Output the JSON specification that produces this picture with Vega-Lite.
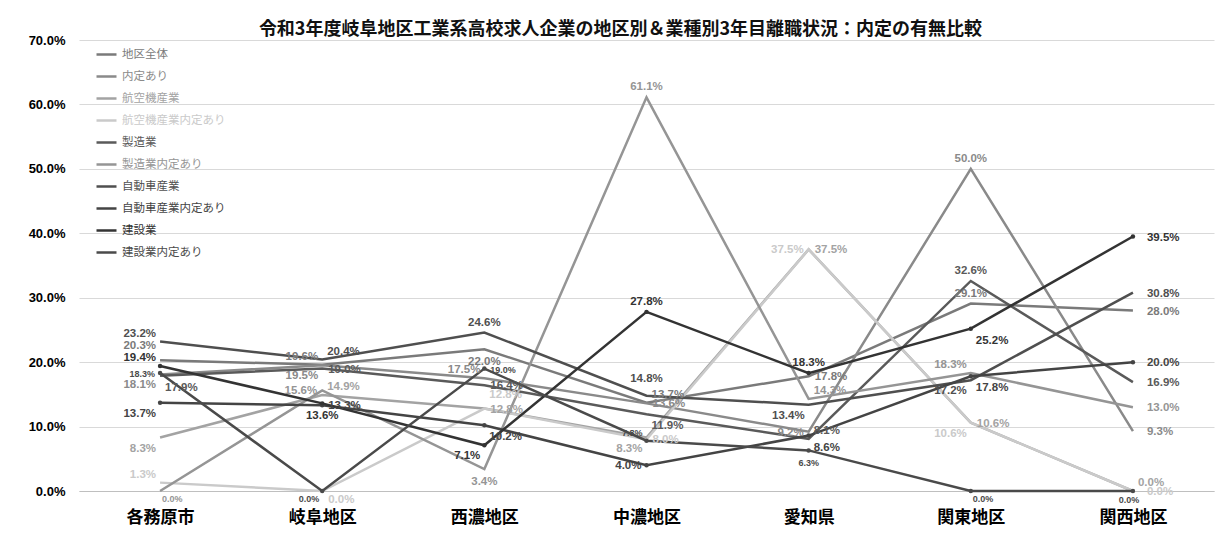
{
  "$schema": "https://vega.github.io/schema/vega-lite/v6.json",
  "width": 1135,
  "height": 451,
  "autosize": {"type": "none"},
  "padding": {"left": 79, "top": 40, "right": 5, "bottom": 43},
  "background": "white",
  "title": {
    "text": "令和3年度岐阜地区工業系高校求人企業の地区別＆業種別3年目離職状況：内定の有無比較",
    "font": "Noto Sans CJK JP",
    "fontSize": 18,
    "fontWeight": "bold",
    "color": "#111111",
    "offset": -5,
    "dx": -26
  },
  "config": {
    "view": {"stroke": null},
    "text": {"font": "Liberation Sans", "fontSize": 11.5, "fontWeight": "bold"}
  },
  "data": {
    "values": [
      {"region": "各務原市", "series": "地区全体", "value": 0.203},
      {"region": "岐阜地区", "series": "地区全体", "value": 0.196},
      {"region": "西濃地区", "series": "地区全体", "value": 0.220},
      {"region": "中濃地区", "series": "地区全体", "value": 0.137},
      {"region": "愛知県", "series": "地区全体", "value": 0.178},
      {"region": "関東地区", "series": "地区全体", "value": 0.291},
      {"region": "関西地区", "series": "地区全体", "value": 0.280},

      {"region": "各務原市", "series": "内定あり", "value": 0.181},
      {"region": "岐阜地区", "series": "内定あり", "value": 0.195},
      {"region": "西濃地区", "series": "内定あり", "value": 0.175},
      {"region": "中濃地区", "series": "内定あり", "value": 0.136},
      {"region": "愛知県", "series": "内定あり", "value": 0.092},
      {"region": "関東地区", "series": "内定あり", "value": 0.500},
      {"region": "関西地区", "series": "内定あり", "value": 0.093},

      {"region": "各務原市", "series": "航空機産業", "value": 0.083},
      {"region": "岐阜地区", "series": "航空機産業", "value": 0.149},
      {"region": "西濃地区", "series": "航空機産業", "value": 0.128},
      {"region": "中濃地区", "series": "航空機産業", "value": 0.083},
      {"region": "愛知県", "series": "航空機産業", "value": 0.375},
      {"region": "関東地区", "series": "航空機産業", "value": 0.106},
      {"region": "関西地区", "series": "航空機産業", "value": 0.000},

      {"region": "各務原市", "series": "航空機産業内定あり", "value": 0.013},
      {"region": "岐阜地区", "series": "航空機産業内定あり", "value": 0.000},
      {"region": "西濃地区", "series": "航空機産業内定あり", "value": 0.128},
      {"region": "中濃地区", "series": "航空機産業内定あり", "value": 0.080},
      {"region": "愛知県", "series": "航空機産業内定あり", "value": 0.375},
      {"region": "関東地区", "series": "航空機産業内定あり", "value": 0.106},
      {"region": "関西地区", "series": "航空機産業内定あり", "value": 0.000},

      {"region": "各務原市", "series": "製造業", "value": 0.179},
      {"region": "岐阜地区", "series": "製造業", "value": 0.190},
      {"region": "西濃地区", "series": "製造業", "value": 0.164},
      {"region": "中濃地区", "series": "製造業", "value": 0.119},
      {"region": "愛知県", "series": "製造業", "value": 0.081},
      {"region": "関東地区", "series": "製造業", "value": 0.326},
      {"region": "関西地区", "series": "製造業", "value": 0.169},

      {"region": "各務原市", "series": "製造業内定あり", "value": 0.000},
      {"region": "岐阜地区", "series": "製造業内定あり", "value": 0.156},
      {"region": "西濃地区", "series": "製造業内定あり", "value": 0.034},
      {"region": "中濃地区", "series": "製造業内定あり", "value": 0.611},
      {"region": "愛知県", "series": "製造業内定あり", "value": 0.143},
      {"region": "関東地区", "series": "製造業内定あり", "value": 0.183},
      {"region": "関西地区", "series": "製造業内定あり", "value": 0.130},

      {"region": "各務原市", "series": "自動車産業", "value": 0.232},
      {"region": "岐阜地区", "series": "自動車産業", "value": 0.204},
      {"region": "西濃地区", "series": "自動車産業", "value": 0.246},
      {"region": "中濃地区", "series": "自動車産業", "value": 0.148},
      {"region": "愛知県", "series": "自動車産業", "value": 0.134},
      {"region": "関東地区", "series": "自動車産業", "value": 0.172},
      {"region": "関西地区", "series": "自動車産業", "value": 0.308},

      {"region": "各務原市", "series": "自動車産業内定あり", "value": 0.137},
      {"region": "岐阜地区", "series": "自動車産業内定あり", "value": 0.133},
      {"region": "西濃地区", "series": "自動車産業内定あり", "value": 0.102},
      {"region": "中濃地区", "series": "自動車産業内定あり", "value": 0.040},
      {"region": "愛知県", "series": "自動車産業内定あり", "value": 0.086},
      {"region": "関東地区", "series": "自動車産業内定あり", "value": 0.178},
      {"region": "関西地区", "series": "自動車産業内定あり", "value": 0.200},

      {"region": "各務原市", "series": "建設業", "value": 0.194},
      {"region": "岐阜地区", "series": "建設業", "value": 0.136},
      {"region": "西濃地区", "series": "建設業", "value": 0.071},
      {"region": "中濃地区", "series": "建設業", "value": 0.278},
      {"region": "愛知県", "series": "建設業", "value": 0.183},
      {"region": "関東地区", "series": "建設業", "value": 0.252},
      {"region": "関西地区", "series": "建設業", "value": 0.395},

      {"region": "各務原市", "series": "建設業内定あり", "value": 0.183},
      {"region": "岐阜地区", "series": "建設業内定あり", "value": 0.000},
      {"region": "西濃地区", "series": "建設業内定あり", "value": 0.190},
      {"region": "中濃地区", "series": "建設業内定あり", "value": 0.078},
      {"region": "愛知県", "series": "建設業内定あり", "value": 0.063},
      {"region": "関東地区", "series": "建設業内定あり", "value": 0.000},
      {"region": "関西地区", "series": "建設業内定あり", "value": 0.000}
    ]
  },
  "encoding": {
    "x": {
      "field": "region",
      "type": "ordinal",
      "sort": ["各務原市", "岐阜地区", "西濃地区", "中濃地区", "愛知県", "関東地区", "関西地区"],
      "scale": {"type": "point", "padding": 0.5},
      "axis": {
        "title": null,
        "labelAngle": 0,
        "grid": false,
        "ticks": false,
        "domain": true,
        "domainColor": "#bfbfbf",
        "domainWidth": 1,
        "labelFont": "Noto Sans CJK JP",
        "labelFontSize": 17,
        "labelFontWeight": "bold",
        "labelColor": "#000000",
        "labelPadding": 18
      }
    },
    "y": {
      "field": "value",
      "type": "quantitative",
      "scale": {"domain": [0, 0.7], "nice": false},
      "axis": {
        "title": null,
        "values": [0, 0.1, 0.2, 0.3, 0.4, 0.5, 0.6, 0.7],
        "format": ".1%",
        "grid": true,
        "gridColor": "#d9d9d9",
        "gridWidth": 1,
        "domain": false,
        "ticks": false,
        "labelFont": "Liberation Sans",
        "labelFontSize": 13,
        "labelFontWeight": "bold",
        "labelColor": "#000000",
        "labelPadding": 14
      }
    },
    "color": {
      "field": "series",
      "type": "nominal",
      "sort": ["地区全体", "内定あり", "航空機産業", "航空機産業内定あり", "製造業", "製造業内定あり", "自動車産業", "自動車産業内定あり", "建設業", "建設業内定あり"],
      "scale": {
        "domain": ["地区全体", "内定あり", "航空機産業", "航空機産業内定あり", "製造業", "製造業内定あり", "自動車産業", "自動車産業内定あり", "建設業", "建設業内定あり"],
        "range": ["#7a7a7a", "#8a8a8a", "#a3a3a3", "#cacaca", "#5a5a5a", "#959595", "#4f4f4f", "#444444", "#333333", "#4a4a4a"]
      },
      "legend": null
    }
  },
  "layer": [
    {
      "mark": {"type": "line", "strokeWidth": 2.5},
      "encoding": {
        "color": {
          "field": "series",
          "type": "nominal",
          "sort": ["地区全体", "内定あり", "航空機産業", "航空機産業内定あり", "製造業", "製造業内定あり", "自動車産業", "自動車産業内定あり", "建設業", "建設業内定あり"],
          "legend": {
            "orient": "none",
            "legendX": 16,
            "legendY": 3,
            "title": null,
            "symbolType": "stroke",
            "symbolSize": 400,
            "symbolStrokeWidth": 2.5,
            "labelFont": "Noto Sans CJK JP",
            "labelFontSize": 11.5,
            "labelLimit": 300,
            "labelOffset": 4,
            "rowPadding": 5,
            "encode": {
              "labels": {"update": {"fill": {"scale": "color", "field": "value"}}}
            }
          }
        }
      }
    },
    {
      "transform": [{"filter": "indexof(['自動車産業内定あり', '建設業', '建設業内定あり'], datum.series) >= 0"}],
      "mark": {"type": "point", "filled": true, "size": 20, "opacity": 1}
    },
    {
      "transform": [{"filter": "indexof(['各務原市|地区全体'], datum.region + '|' + datum.series) >= 0"}],
      "mark": {"type": "text", "align": "right", "baseline": "middle", "dx": -4, "dy": -14},
      "encoding": {"text": {"field": "value", "type": "quantitative", "format": ".1%"}}
    },
    {
      "transform": [{"filter": "indexof(['各務原市|自動車産業', '各務原市|建設業', '各務原市|航空機産業内定あり', '岐阜地区|地区全体', '西濃地区|内定あり', '中濃地区|建設業内定あり', '関東地区|製造業内定あり'], datum.region + '|' + datum.series) >= 0"}],
      "mark": {"type": "text", "align": "right", "baseline": "middle", "dx": -4, "dy": -8},
      "encoding": {
        "text": {"field": "value", "type": "quantitative", "format": ".1%"},
        "size": {"condition": {"test": "datum.series === '建設業内定あり'", "value": 9}, "value": 11.5}
      }
    },
    {
      "transform": [{"filter": "indexof(['各務原市|建設業内定あり', '岐阜地区|製造業内定あり', '中濃地区|自動車産業内定あり', '愛知県|航空機産業内定あり', '愛知県|内定あり'], datum.region + '|' + datum.series) >= 0"}],
      "mark": {"type": "text", "align": "right", "baseline": "middle", "dx": -5, "dy": 1},
      "encoding": {
        "text": {"field": "value", "type": "quantitative", "format": ".1%"},
        "size": {"condition": {"test": "datum.series === '建設業内定あり'", "value": 9}, "value": 11.5}
      }
    },
    {
      "transform": [{"filter": "indexof(['各務原市|内定あり', '各務原市|自動車産業内定あり', '各務原市|航空機産業', '岐阜地区|内定あり', '西濃地区|建設業', '中濃地区|航空機産業', '愛知県|自動車産業', '関東地区|自動車産業', '関東地区|航空機産業内定あり'], datum.region + '|' + datum.series) >= 0"}],
      "mark": {"type": "text", "align": "right", "baseline": "middle", "dx": -4, "dy": 11},
      "encoding": {"text": {"field": "value", "type": "quantitative", "format": ".1%"}}
    },
    {
      "transform": [{"filter": "indexof(['岐阜地区|自動車産業', '岐阜地区|航空機産業', '中濃地区|地区全体', '愛知県|製造業内定あり', '愛知県|製造業', '関西地区|航空機産業'], datum.region + '|' + datum.series) >= 0"}],
      "mark": {"type": "text", "align": "left", "baseline": "middle", "dx": 5, "dy": -8},
      "encoding": {"text": {"field": "value", "type": "quantitative", "format": ".1%"}}
    },
    {
      "transform": [{"filter": "indexof(['西濃地区|航空機産業内定あり'], datum.region + '|' + datum.series) >= 0"}],
      "mark": {"type": "text", "align": "left", "baseline": "middle", "dx": 5, "dy": -14},
      "encoding": {"text": {"field": "value", "type": "quantitative", "format": ".1%"}}
    },
    {
      "transform": [{"filter": "indexof(['岐阜地区|製造業', '岐阜地区|自動車産業内定あり', '西濃地区|建設業内定あり', '西濃地区|製造業', '西濃地区|航空機産業', '中濃地区|内定あり', '中濃地区|航空機産業内定あり', '愛知県|航空機産業', '愛知県|地区全体', '関東地区|航空機産業'], datum.region + '|' + datum.series) >= 0"}],
      "mark": {"type": "text", "align": "left", "baseline": "middle", "dx": 6, "dy": 1},
      "encoding": {
        "text": {"field": "value", "type": "quantitative", "format": ".1%"},
        "size": {"condition": {"test": "datum.series === '建設業内定あり'", "value": 9}, "value": 11.5}
      }
    },
    {
      "transform": [{"filter": "datum.region === '関西地区' && datum.series !== '航空機産業' && datum.series !== '建設業内定あり'"}],
      "mark": {"type": "text", "align": "left", "baseline": "middle", "dx": 14, "dy": 1},
      "encoding": {"text": {"field": "value", "type": "quantitative", "format": ".1%"}}
    },
    {
      "transform": [{"filter": "indexof(['各務原市|製造業', '西濃地区|自動車産業内定あり', '中濃地区|製造業', '愛知県|自動車産業内定あり', '関東地区|建設業', '関東地区|自動車産業内定あり'], datum.region + '|' + datum.series) >= 0"}],
      "mark": {"type": "text", "align": "left", "baseline": "middle", "dx": 5, "dy": 12},
      "encoding": {"text": {"field": "value", "type": "quantitative", "format": ".1%"}}
    },
    {
      "transform": [{"filter": "indexof(['岐阜地区|航空機産業内定あり'], datum.region + '|' + datum.series) >= 0"}],
      "mark": {"type": "text", "align": "left", "baseline": "middle", "dx": 6, "dy": 9},
      "encoding": {"text": {"field": "value", "type": "quantitative", "format": ".1%"}}
    },
    {
      "transform": [{"filter": "indexof(['西濃地区|自動車産業', '中濃地区|製造業内定あり', '中濃地区|建設業', '愛知県|建設業', '関東地区|内定あり', '関東地区|製造業', '関東地区|地区全体'], datum.region + '|' + datum.series) >= 0"}],
      "mark": {"type": "text", "align": "center", "baseline": "middle", "dy": -10},
      "encoding": {"text": {"field": "value", "type": "quantitative", "format": ".1%"}}
    },
    {
      "transform": [{"filter": "indexof(['中濃地区|自動車産業'], datum.region + '|' + datum.series) >= 0"}],
      "mark": {"type": "text", "align": "center", "baseline": "middle", "dy": -17},
      "encoding": {"text": {"field": "value", "type": "quantitative", "format": ".1%"}}
    },
    {
      "transform": [{"filter": "indexof(['岐阜地区|建設業', '西濃地区|地区全体', '西濃地区|製造業内定あり', '愛知県|建設業内定あり'], datum.region + '|' + datum.series) >= 0"}],
      "mark": {"type": "text", "align": "center", "baseline": "middle", "dy": 13},
      "encoding": {
        "text": {"field": "value", "type": "quantitative", "format": ".1%"},
        "size": {"condition": {"test": "datum.series === '建設業内定あり'", "value": 9}, "value": 11.5}
      }
    },
    {
      "transform": [{"filter": "indexof(['各務原市|製造業内定あり', '関東地区|建設業内定あり'], datum.region + '|' + datum.series) >= 0"}],
      "mark": {"type": "text", "align": "left", "baseline": "middle", "dx": 2, "dy": 8, "fontSize": 9},
      "encoding": {"text": {"field": "value", "type": "quantitative", "format": ".1%"}}
    },
    {
      "transform": [{"filter": "indexof(['岐阜地区|建設業内定あり'], datum.region + '|' + datum.series) >= 0"}],
      "mark": {"type": "text", "align": "right", "baseline": "middle", "dx": -3, "dy": 8, "fontSize": 9},
      "encoding": {"text": {"field": "value", "type": "quantitative", "format": ".1%"}}
    },
    {
      "transform": [{"filter": "indexof(['関西地区|建設業内定あり'], datum.region + '|' + datum.series) >= 0"}],
      "mark": {"type": "text", "align": "center", "baseline": "middle", "dx": -4, "dy": 9, "fontSize": 9},
      "encoding": {"text": {"field": "value", "type": "quantitative", "format": ".1%"}}
    }
  ]
}
